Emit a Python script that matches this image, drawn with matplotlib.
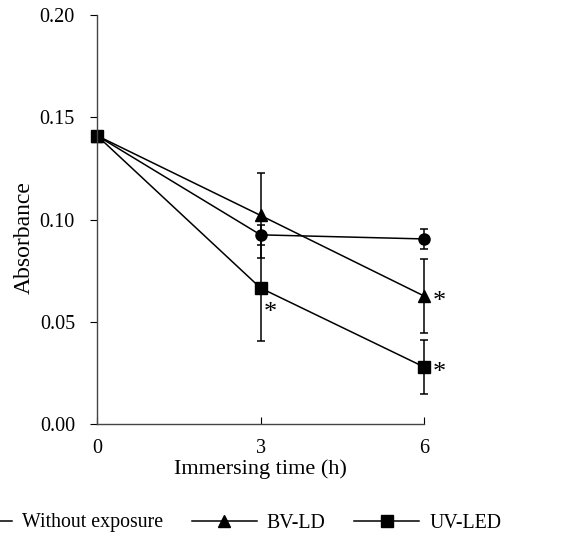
import matplotlib
matplotlib.use("Agg")
import matplotlib.pyplot as plt

plt.rcParams['font.family'] = ['Liberation Serif', 'DejaVu Serif']

hours = [0, 3, 6]
without_exposure = [0.141, 0.0925, 0.0905]
without_err = [0.0, 0.0048, 0.0047]
bv_ld = [0.141, 0.102, 0.0626]
bv_err = [0.0, 0.0207, 0.018]
uv_led = [0.141, 0.0665, 0.0279]
uv_err = [0.0, 0.026, 0.0132]

# significance marks: (series, hour index)
stars = [(uv_led, 1), (bv_ld, 2), (uv_led, 2)]
star_offsets = [(2, -22), (6, -9), (6, -9)]

fig = plt.figure(figsize=(5.78, 5.42), dpi=100)
ax = fig.add_axes([0.168, 0.2177, 0.5656, 0.7546])

style = dict(color='black', lw=1.1, ecolor='black', elinewidth=1.1, capsize=3,
             capthick=1.1, clip_on=False)
ax.errorbar(hours, without_exposure, yerr=without_err, marker='o', ms=8,
            label='Without exposure', **style)
ax.errorbar(hours, bv_ld, yerr=bv_err, marker='^', ms=9, label='BV-LD', **style)
ax.errorbar(hours, uv_led, yerr=uv_err, marker='s', ms=8, label='UV-LED', **style)

for (series, i), off in zip(stars, star_offsets):
    ax.annotate('*', (hours[i], series[i]), xytext=off, textcoords='offset points',
                ha='left', va='baseline', fontsize=19)

ax.set_xlim(0, 6)
ax.set_ylim(0, 0.20)
ax.set_xticks(hours)
ax.set_yticks([0, 0.05, 0.10, 0.15, 0.20])
ax.set_yticklabels(['0.00', '0.05', '0.10', '0.15', '0.20'])
ax.tick_params(axis='x', direction='in', length=5, pad=11, labelsize=14.5)
ax.tick_params(axis='y', direction='out', length=5, pad=11, labelsize=14.5)
ax.spines['top'].set_visible(False)
ax.spines['right'].set_visible(False)
for s in ['left', 'bottom']:
    ax.spines[s].set_color('#444444')
    ax.spines[s].set_linewidth(1.0)

ax.set_xlabel('Immersing time (h)', fontsize=16, labelpad=1)
ax.set_ylabel('Absorbance', fontsize=17)
ax.yaxis.set_label_coords(-0.19, 0.457)

handles, labels = ax.get_legend_handles_labels()
handles = [h[0] for h in handles]
fig.legend(handles, labels, loc='center left', bbox_to_anchor=(-53 / 578, 1 - 523 / 542),
           ncol=3, frameon=False, fontsize=14.3, handlelength=3.27, handletextpad=0.5,
           columnspacing=1.45, borderpad=0, borderaxespad=0)

fig.savefig('out.png', dpi=100)
